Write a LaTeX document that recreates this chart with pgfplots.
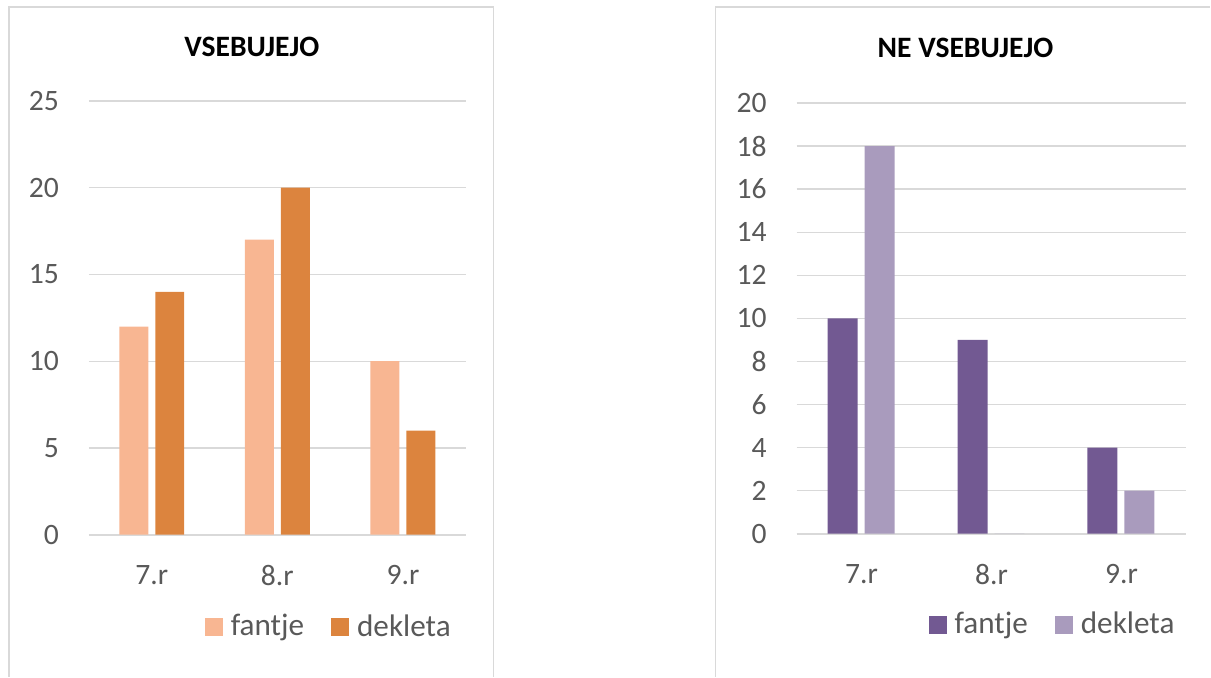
\documentclass[border=0pt]{standalone}
\usepackage{pgfplots}
\pgfplotsset{compat=1.18}
\usepackage{fontspec}
\setmainfont{Carlito}
\definecolor{tickgray}{HTML}{595959}
\definecolor{gridgray}{HTML}{D9D9D9}
\definecolor{lorange}{HTML}{F8B692}
\definecolor{dorange}{HTML}{DC843E}
\definecolor{dpurple}{HTML}{725992}
\definecolor{lpurple}{HTML}{A99BBD}
\pgfplotsset{
  mystyle/.style={
    scale only axis,
    anchor=south west,
    ymin=0,
    xmin=-0.5, xmax=2.5,
    xtick={0,1,2},
    xticklabels={7.r,8.r,9.r},
    axis y line*=left,
    y axis line style={draw=none},
    axis x line*=bottom,
    x axis line style={draw=gridgray, line width=1pt, -},
    ymajorgrids,
    grid style={draw=gridgray, line width=0.6pt},
    major tick length=0pt,
    tick style={draw=none},
    ybar,
    /pgf/number format/assume math mode=true,
    tick label style={font=\fontsize{14.8}{17}\selectfont, text=tickgray},
    xticklabel style={yshift=-12pt},
    yticklabel style={xshift=-11.5pt},
    legend columns=2,
    legend style={draw=none, fill=none, font=\fontsize{15.6}{17}\selectfont, text=tickgray,
      /tikz/every even column/.append style={column sep=11.5pt},
      /tikz/every odd column/.append style={column sep=2pt}},
    legend image code/.code={\fill[##1] (0pt,-4.5pt) rectangle (9pt,4.5pt);},
  }
}
\begin{document}
\begin{tikzpicture}
\path (0pt,0pt) rectangle (605.5pt,338.5pt);
\draw[gridgray, line width=0.6pt] (4.5pt,0pt) -- (4.5pt,335pt) -- (247pt,335pt) -- (247pt,0pt);
\draw[gridgray, line width=0.6pt] (358pt,0pt) -- (358pt,335pt) -- (605.5pt,335pt);
\node[font=\fontsize{14.8}{17}\selectfont\bfseries] at (126pt,315pt) {VSEBUJEJO};
\node[font=\fontsize{14.8}{17}\selectfont\bfseries] at (483pt,314.5pt) {NE VSEBUJEJO};
\begin{axis}[mystyle,
  at={(44.5pt,71pt)},
  width=188.5pt, height=217pt,
  ymax=25, ytick={0,5,10,15,20,25},
  bar width=14.5pt,
  legend style={at={(0.639,-0.212)}, anchor=center},
]
\addplot[fill=lorange, draw=none, bar shift=-9pt] coordinates {(0,12) (1,17) (2,10)};
\addplot[fill=dorange, draw=none, bar shift=9pt] coordinates {(0,14) (1,20) (2,6)};
\legend{fantje,dekleta}
\end{axis}
\begin{axis}[mystyle,
  at={(398.5pt,71.5pt)},
  width=195pt, height=215.5pt,
  ymax=20, ytick={0,2,...,20},
  bar width=15pt,
  legend style={at={(0.659,-0.211)}, anchor=center},
]
\addplot[fill=dpurple, draw=none, bar shift=-9.5pt] coordinates {(0,10) (1,9) (2,4)};
\addplot[fill=lpurple, draw=none, bar shift=9pt] coordinates {(0,18) (1,0) (2,2)};
\legend{fantje,dekleta}
\end{axis}
\end{tikzpicture}
\end{document}
